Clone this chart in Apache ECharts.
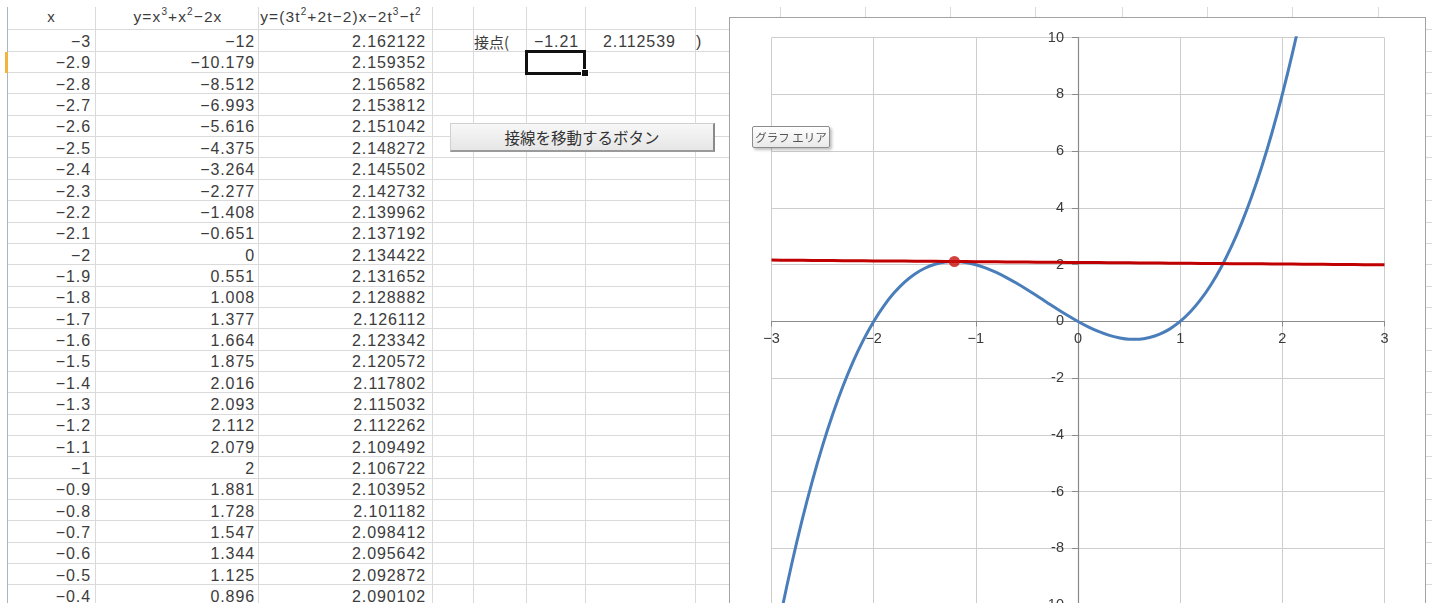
<!DOCTYPE html>
<html>
<head>
<meta charset="utf-8">
<title>接線</title>
<script src="https://cdn.jsdelivr.net/npm/echarts@6/dist/echarts.min.js"></script>
<style>
  html, body { margin: 0; padding: 0; background: #fff; width: 1432px; height: 603px; overflow: hidden;
    font-family: "Liberation Sans", Arial, sans-serif; }
  #sheet { position: absolute; left: 0; top: 0; width: 1432px; height: 603px; }
  .hl { position: absolute; height: 1px; background: #dadada; }
  .vl { position: absolute; width: 1px; background: #dadada; }
  .cell { position: absolute; font-size: 16px; color: #3c3c3c; white-space: nowrap;
    letter-spacing: 0.9px; line-height: 20px; }
  .cell sup { font-size: 10px; vertical-align: 0; position: relative; top: -7px; }
  .jp { font-family: "Noto Sans CJK JP", sans-serif; letter-spacing: 0; }
  #chart { position: absolute; left: 729px; top: 17px; width: 697px; height: 620px;
    border: 1px solid #a3a3a3; box-sizing: border-box; background: #fff; }
  #button { position: absolute; left: 450px; top: 123px; width: 265px; height: 29px; box-sizing: border-box;
    background: linear-gradient(#f7f7f7, #e6e6e6); border: 1px solid #d0d0d0;
    border-right: 2px solid #8a8a8a; border-bottom: 2px solid #9a9a9a;
    font-family: "Noto Sans CJK JP", sans-serif; font-size: 15.5px; color: #333;
    text-align: center; line-height: 26px; }
  #tip { position: absolute; left: 752px; top: 126px; width: 78px; height: 22px; box-sizing: border-box;
    border: 1px solid #8c8c8c; border-radius: 2px; background: linear-gradient(#ffffff, #e9e9e9);
    box-shadow: 2px 2px 3px rgba(0,0,0,0.25); font-family: "Noto Sans CJK JP", sans-serif;
    font-size: 11.5px; color: #555; line-height: 20px; text-align: center; z-index: 5; }
</style>
</head>
<body>
<div id="sheet"></div>
<div id="button">接線を移動するボタン</div>
<div id="chart"></div>
<div id="tip">グラフ エリア</div>

<script>
// x values of the worksheet (step 0.1)
const xValues = [
  -3, -2.9, -2.8, -2.7, -2.6, -2.5, -2.4, -2.3, -2.2, -2.1,
  -2, -1.9, -1.8, -1.7, -1.6, -1.5, -1.4, -1.3, -1.2, -1.1,
  -1, -0.9, -0.8, -0.7, -0.6, -0.5, -0.4, -0.3, -0.2, -0.1,
  0, 0.1, 0.2, 0.3, 0.4, 0.5, 0.6, 0.7, 0.8, 0.9,
  1, 1.1, 1.2, 1.3, 1.4, 1.5, 1.6, 1.7, 1.8, 1.9,
  2, 2.1, 2.2, 2.3, 2.4, 2.5, 2.6, 2.7, 2.8, 2.9, 3
];

// y = x^3 + x^2 - 2x
const cubicValues = [
  -12, -10.179, -8.512, -6.993, -5.616, -4.375, -3.264, -2.277, -1.408, -0.651,
  0, 0.551, 1.008, 1.377, 1.664, 1.875, 2.016, 2.093, 2.112, 2.079,
  2, 1.881, 1.728, 1.547, 1.344, 1.125, 0.896, 0.663, 0.432, 0.209,
  0, -0.189, -0.352, -0.483, -0.576, -0.625, -0.624, -0.567, -0.448, -0.261,
  0, 0.341, 0.768, 1.287, 1.904, 2.625, 3.456, 4.403, 5.472, 6.669,
  8, 9.471, 11.088, 12.857, 14.784, 16.875, 19.136, 21.573, 24.192, 26.999, 30
];

// y = (3t^2 + 2t - 2)x - 2t^3 - t^2  with t = -1.21
const tangentValues = [
  2.162122, 2.159352, 2.156582, 2.153812, 2.151042, 2.148272, 2.145502, 2.142732, 2.139962, 2.137192,
  2.134422, 2.131652, 2.128882, 2.126112, 2.123342, 2.120572, 2.117802, 2.115032, 2.112262, 2.109492,
  2.106722, 2.103952, 2.101182, 2.098412, 2.095642, 2.092872, 2.090102, 2.087332, 2.084562, 2.081792,
  2.079022, 2.076252, 2.073482, 2.070712, 2.067942, 2.065172, 2.062402, 2.059632, 2.056862, 2.054092,
  2.051322, 2.048552, 2.045782, 2.043012, 2.040242, 2.037472, 2.034702, 2.031932, 2.029162, 2.026392,
  2.023622, 2.020852, 2.018082, 2.015312, 2.012542, 2.009772, 2.007002, 2.004232, 2.001462, 1.998692, 1.995922
];

// tangent point (t, f(t))
const tangentPoint = [-1.21, 2.112539];

// column headings
const headings = [
  'x',
  'y=x<sup>3</sup>+x<sup>2</sup>−2x',
  'y=(3t<sup>2</sup>+2t−2)x−2t<sup>3</sup>−t<sup>2</sup>'
];

// ---------- worksheet ----------
const sheet = document.getElementById('sheet');
const colEdges = [7, 95, 258, 432, 473, 526, 585, 695, 780, 865, 950, 1035, 1122, 1207, 1292, 1378];
const rowTop0 = 29.3, rowH = 21.35, visibleRows = 27;

function add(cls, style, html) {
  const d = document.createElement('div');
  d.className = cls;
  Object.assign(d.style, style);
  if (html !== undefined) d.innerHTML = html;
  sheet.appendChild(d);
  return d;
}

colEdges.forEach((x, i) => {
  add('vl', { left: x + 'px', top: '7px', height: '596px', background: i === 0 ? '#aab4c2' : '#dadada' });
});
for (let k = 0; k <= visibleRows; k++) {
  add('hl', { left: '8px', top: (rowTop0 + rowH * k).toFixed(1) + 'px', width: '1424px' });
}

// headings, centred in columns A-C
const headCentres = [51, 178, 341];
headings.forEach((h, i) => {
  add('cell', { left: (headCentres[i] - 120) + 'px', width: '240px', textAlign: 'center', top: '7px',
    fontSize: i === 0 ? '15px' : '15.5px', letterSpacing: i === 0 ? '0' : '1.1px' }, h);
});

const fmt = v => String(v).replace('-', '−');
const rightEdges = [91, 255, 426];
for (let k = 0; k < visibleRows; k++) {
  const top = (rowTop0 + rowH * k + 2.7).toFixed(1) + 'px';
  [xValues[k], cubicValues[k], tangentValues[k]].forEach((v, c) => {
    add('cell', { left: (rightEdges[c] - 160) + 'px', width: '160px', textAlign: 'right', top }, fmt(v));
  });
}

// tangent point read-out
const r0 = (rowTop0 + 2.7).toFixed(1) + 'px';
add('cell jp', { left: '474px', top: r0, fontSize: '15px' }, '接点(');
add('cell', { left: '534px', top: r0 }, fmt(tangentPoint[0]));
add('cell', { left: '603px', top: r0 }, String(tangentPoint[1]));
add('cell', { left: '696px', top: r0 }, ')');

// active-row marker, selected cell and its fill handle
add('', { position: 'absolute', left: '5px', top: '52px', width: '3px', height: '21px', background: '#f2b43c' });
add('', { position: 'absolute', left: '525px', top: '50px', width: '61px', height: '25px', boxSizing: 'border-box', border: '3px solid #111' });
add('', { position: 'absolute', left: '582px', top: '70px', width: '6px', height: '6px', background: '#111', outline: '1px solid #fff' });

// ---------- chart ----------
const chart = echarts.init(document.getElementById('chart'), null, { renderer: 'canvas' });
const axisColor = '#8a8a8a';
const labelColor = '#3a3a3a';
const gridColor = '#cdcdcd';
const gridW = 613, gridH = 567.5;
const xMin = -3, xMax = 3, yMin = -10, yMax = 10;

// axes cross at the origin: shift each axis from its grid edge to the zero line
const yAxisShift = -gridW * (0 - xMin) / (xMax - xMin);
const xAxisShift = -gridH * (0 - yMin) / (yMax - yMin);

chart.setOption({
  animation: false,
  backgroundColor: '#fff',
  grid: { left: 41.5, top: 19.7, width: gridW, height: gridH, containLabel: false },
  xAxis: {
    type: 'value', min: xMin, max: xMax, interval: 1, position: 'bottom', offset: xAxisShift,
    axisLine: { show: true, onZero: false, lineStyle: { color: axisColor, width: 1 } },
    axisTick: { show: true, length: 5, lineStyle: { color: axisColor } },
    axisLabel: { color: labelColor, fontSize: 14.5, margin: 10, fontFamily: 'Liberation Sans',
      formatter: v => String(v).replace('-', '−') },
    splitLine: { show: true, lineStyle: { color: gridColor, width: 1 } }
  },
  yAxis: {
    type: 'value', min: yMin, max: yMax, interval: 2, position: 'left', offset: yAxisShift,
    axisLine: { show: true, onZero: false, lineStyle: { color: axisColor, width: 1.2 } },
    axisTick: { show: true, length: 6, lineStyle: { color: axisColor } },
    axisLabel: { color: labelColor, fontSize: 14.5, margin: 14, fontFamily: 'Liberation Sans' },
    splitLine: { show: true, lineStyle: { color: gridColor, width: 1 } }
  },
  series: [
    {
      name: 'y=x^3+x^2-2x', type: 'line', smooth: 0.35, showSymbol: false, clip: true, z: 2,
      data: xValues.map((x, i) => [x, cubicValues[i]]),
      lineStyle: { color: '#4a7ebb', width: 3 }
    },
    {
      name: '接線', type: 'line', showSymbol: false, clip: true, z: 3,
      data: xValues.map((x, i) => [x, tangentValues[i]]),
      lineStyle: { color: '#c00000', width: 3 }
    },
    {
      name: '接点', type: 'scatter', symbol: 'circle', symbolSize: 11, z: 4,
      data: [tangentPoint],
      itemStyle: { color: '#c8100e' }
    }
  ]
});
</script>
</body>
</html>
